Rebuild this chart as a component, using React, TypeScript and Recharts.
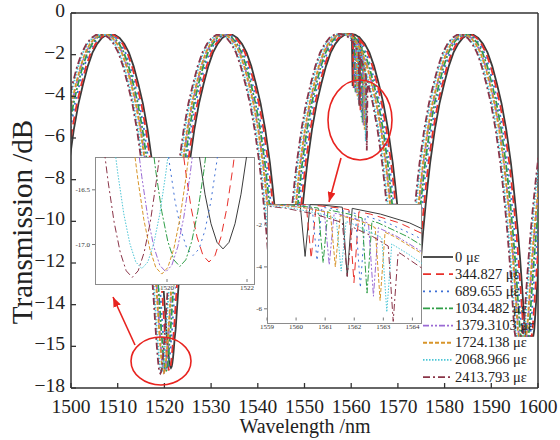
import { LineChart, Line, XAxis, YAxis, ReferenceLine, Legend } from 'recharts';

const FONT = '"Liberation Serif", "DejaVu Serif", serif';
const FRAME = '#333';

// legend / series
const STRAINS = ['0', '344.827', '689.655', '1034.482', '1379.3103', '1724.138', '2068.966', '2413.793'];
const COLORS = ['#3b3b3b', '#e8302a', '#3d6fd6', '#2f9e47', '#9a6ad4', '#d8952a', '#4cc6d6', '#8a3448'];
const DASHES = [undefined, '8 5', '2 4', '7 2 2 2', '6 2 2 2 2 2', '4 2', '1.5 1.5', '7 3 2 3'];

// interference dip near 1520 nm, per strain
const MIN_1520 = [1521.4, 1521.05, 1520.65, 1520.32, 1519.97, 1519.87, 1519.37, 1519.13];
const DEPTH_1520 = [-17.04, -17.16, -17.1, -17.2, -17.25, -17.27, -17.22, -17.3];

// other dips relative to the 1520 one, and the lowest level seen for each
const LOBE_OFFSET = [-25.8, 0, 25.2, 51.5, 76.8];
const LOBE_FLOOR = [-17.3, -17.3, -14.5, -14.5, -15.5];

// one lobe of the fringe: distance from the dip (nm) -> dB
const PROFILE_D = [0, 0.15, 0.3, 0.45, 0.6, 0.8, 1, 1.25, 1.5, 2, 2.5, 3, 3.5, 4, 5, 6, 7, 8, 9, 10, 11, 12, 13];
const PROFILE_DB = [-17.3, -17.24, -17.07, -16.8, -16.43, -15.85, -15.2, -14.35, -13.5, -11.9, -10.5, -9.3, -8.2, -7.2, -5.6, -4.35, -3.4, -2.55, -1.9, -1.48, -1.2, -1.05, -1.0];

// narrow notches on the 1560 nm fringe (right inset)
const NOTCH_A = [1560.31, 1560.52, 1560.72, 1560.93, 1561.14, 1561.35, 1561.55, 1561.76];
const NOTCH_A_DB = [-3.5, -3.6, -3.7, -3.8, -3.9, -4.0, -4.2, -4.45];
const NOTCH_B = [1561.76, 1561.99, 1562.21, 1562.44, 1562.66, 1562.89, 1563.12, 1563.34];
const NOTCH_B_DB = [-4.45, -4.75, -5.0, -5.25, -5.4, -5.6, -6.15, -6.6];

const X_TICKS = [1500, 1510, 1520, 1530, 1540, 1550, 1560, 1570, 1580, 1590, 1600];
const Y_TICKS = [0, -2, -4, -6, -8, -10, -12, -14, -16, -18];
const Y_TICK_LABELS = ['0', '\u22122', '\u22124', '\u22126', '\u22128', '\u221210', '\u221212', '\u221214', '\u221215', '\u221218'];

type Pt = { x: number; y: number };

function addNotch(pts: Pt[], c: number, depth: number): Pt[] {
  const hw = 0.17;
  const yAt = (x: number) => {
    for (let j = 1; j < pts.length; j++) {
      if (pts[j].x >= x) {
        const a = pts[j - 1], b = pts[j];
        return a.y + ((b.y - a.y) * (x - a.x)) / (b.x - a.x);
      }
    }
    return pts[pts.length - 1].y;
  };
  const yl = yAt(c - hw);
  const yr = yAt(c + hw);
  const out = pts.filter((p) => p.x < c - hw || p.x > c + hw);
  out.push({ x: c - hw, y: yl }, { x: c, y: depth }, { x: c + hw, y: yr });
  return out.sort((a, b) => a.x - b.x);
}

function buildSeries(i: number): Pt[] {
  let pts: Pt[] = [];
  LOBE_OFFSET.forEach((off, k) => {
    const m = MIN_1520[i] + off;
    const left = k === 0 ? 13 : (off - LOBE_OFFSET[k - 1]) / 2;
    const right = k === LOBE_OFFSET.length - 1 ? 13 : (LOBE_OFFSET[k + 1] - off) / 2;
    const pt = (j: number, sign: number) => {
      let y = Math.max(PROFILE_DB[j], LOBE_FLOOR[k]);
      if (k === 1 && PROFILE_D[j] <= 0.8) y += DEPTH_1520[i] - PROFILE_DB[0];
      return { x: m + sign * PROFILE_D[j], y };
    };
    for (let j = PROFILE_D.length - 1; j >= 1; j--) if (PROFILE_D[j] < left) pts.push(pt(j, -1));
    pts.push(pt(0, 1));
    for (let j = 1; j < PROFILE_D.length; j++) if (PROFILE_D[j] <= right) pts.push(pt(j, 1));
  });
  pts = addNotch(pts, NOTCH_A[i], NOTCH_A_DB[i]);
  pts = addNotch(pts, NOTCH_B[i], NOTCH_B_DB[i]);
  return pts;
}

const SERIES = STRAINS.map((_, i) => buildSeries(i));

// eslint-disable-next-line @typescript-eslint/no-explicit-any
const XTick = (props: any) => {
  const { x, y, payload } = props;
  return (
    <g>
      <line x1={x} y1={y} x2={x} y2={y - 5} stroke={FRAME} strokeWidth={1.3} />
      <text x={x} y={y + 25} textAnchor="middle" fontSize={19.5} fontFamily={FONT} fill="#222">
        {payload.value}
      </text>
    </g>
  );
};

// eslint-disable-next-line @typescript-eslint/no-explicit-any
const YTick = (props: any) => {
  const { x, y, payload, index } = props;
  return (
    <g>
      <line x1={x} y1={y} x2={x + 5} y2={y} stroke={FRAME} strokeWidth={1.3} />
      <text x={x - 6} y={y + 4} textAnchor="end" fontSize={19.5} fontFamily={FONT} fill="#222">
        {Y_TICK_LABELS[index] ?? payload.value}
      </text>
    </g>
  );
};

// small inset labels, with a thin white halo so they stay legible over the curves
// eslint-disable-next-line @typescript-eslint/no-explicit-any
const SmallXTick = (props: any) => {
  const { x, y, payload } = props;
  return (
    <g>
      <line x1={x} y1={y - 3} x2={x} y2={y - 6} stroke="#777" />
      <text x={x} y={y + 5} textAnchor="middle" fontSize={7} fontFamily={FONT} fill="#333"
        stroke="#fff" strokeWidth={2} paintOrder="stroke">
        {payload.value}
      </text>
    </g>
  );
};

const renderLegend = () => (
  <svg width={135} height={145}>
    {STRAINS.map((s, i) => {
      const y = 10 + i * 17.15;
      return (
        <g key={s}>
          <line x1={2} x2={32} y1={y} y2={y} stroke={COLORS[i]} strokeWidth={1.8} strokeDasharray={DASHES[i]} />
          <text x={34} y={y + 4.5} fontSize={14.5} fontFamily={FONT} fill="#222">
            {s} με
          </text>
        </g>
      );
    })}
  </svg>
);

const smallTick = { fontSize: 7, fontFamily: FONT, fill: '#333' };

function Lines({ width }: { width: number }) {
  return SERIES.map((data, i) => (
    <Line
      key={STRAINS[i]}
      data={data}
      dataKey="y"
      type="linear"
      stroke={COLORS[i]}
      strokeWidth={width}
      strokeDasharray={DASHES[i]}
      dot={false}
      activeDot={false}
      isAnimationActive={false}
    />
  ));
}

export default function App() {
  const insetBox = { position: 'absolute' as const, background: '#fff', boxShadow: 'inset 0 0 0 1px #8c8c8c' };
  return (
    <div style={{ position: 'fixed', left: 0, top: 0, width: 560, height: 440, background: '#fff', overflow: 'hidden' }}>
      {/* Main chart */}
      <div style={{ position: 'absolute', left: 0, top: 0 }}>
        <LineChart width={560} height={440} margin={{ top: 13, right: 22, bottom: 51, left: 70 }}>
          <XAxis
            dataKey="x"
            type="number"
            domain={[1500, 1600]}
            ticks={X_TICKS}
            interval={0}
            allowDataOverflow
            height={1}
            tickSize={0}
            tickMargin={0}
            tickLine={false}
            tick={(p: any) => <XTick {...p} />}
            axisLine={{ stroke: FRAME, strokeWidth: 1.5 }}
          />
          <YAxis
            type="number"
            domain={[-18, 0]}
            ticks={Y_TICKS}
            interval={0}
            allowDataOverflow
            width={1}
            tickSize={0}
            tickMargin={0}
            tickLine={false}
            tick={(p: any) => <YTick {...p} />}
            axisLine={{ stroke: FRAME, strokeWidth: 1.5 }}
          />
          <ReferenceLine y={0} stroke={FRAME} strokeWidth={1.5} />
          <ReferenceLine x={1600} stroke={FRAME} strokeWidth={1.5} />
          {Lines({ width: 1.8 })}
          <Legend
            layout="vertical"
            align="center"
            verticalAlign="middle"
            content={renderLegend}
            wrapperStyle={{ left: 421, top: 247, width: 135, height: 145 }}
          />
        </LineChart>
      </div>

      {/* Left inset: dip near 1520 nm */}
      <div style={{ ...insetBox, left: 95, top: 157, width: 160, height: 128 }} />
      <div style={{ position: 'absolute', left: 60, top: 150 }}>
        <LineChart width={205} height={150} margin={{ top: 7, right: 10, bottom: 14, left: 34 }}>
          <XAxis dataKey="x" type="number" domain={[1518.2, 1522.2]} ticks={[1520, 1522]} interval={0} allowDataOverflow
            height={1} axisLine={false} tickSize={0} tickMargin={0} tickLine={false} tick={(p: any) => <SmallXTick {...p} />} />
          <YAxis type="number" domain={[-17.37, -16.2]} ticks={[-16.5, -17]} interval={0} allowDataOverflow
            width={1} axisLine={false} tickSize={3} tickMargin={2} tick={smallTick} tickLine={{ stroke: '#777' }}
            tickFormatter={(v: number) => v.toFixed(1)} />
          {Lines({ width: 1 })}
        </LineChart>
      </div>

      {/* Right inset: notches near 1561 nm */}
      <div style={{ ...insetBox, left: 267, top: 204, width: 155, height: 119.5 }} />
      <div style={{ position: 'absolute', left: 250, top: 198 }}>
        <LineChart width={180} height={145} margin={{ top: 6, right: 8, bottom: 18.5, left: 16 }}>
          <XAxis dataKey="x" type="number" domain={[1559, 1564.33]} ticks={[1559, 1560, 1561, 1562, 1563, 1564]} interval={0}
            allowDataOverflow height={1} axisLine={false} tickSize={0} tickMargin={0} tickLine={false}
            tick={(p: any) => <SmallXTick {...p} />} />
          <YAxis type="number" domain={[-6.7, -1.0]} ticks={[-2, -4, -6]} interval={0} allowDataOverflow
            width={1} axisLine={false} tickSize={3} tickMargin={2} tick={smallTick} tickLine={{ stroke: '#777' }} />
          {Lines({ width: 1 })}
        </LineChart>
      </div>

      {/* Annotations and axis titles */}
      <svg width={560} height={440} style={{ position: 'absolute', left: 0, top: 0, pointerEvents: 'none' }}>
        <defs>
          <marker id="ah" markerUnits="userSpaceOnUse" markerWidth={10} markerHeight={8} refX={10} refY={4} orient="auto">
            <path d="M0,0 L10,4 L0,8 z" fill="#e8231f" />
          </marker>
        </defs>
        <ellipse cx={161} cy={361} rx={30} ry={24} fill="none" stroke="#e8231f" strokeWidth={1.6} />
        <line x1={135} y1={345} x2={113} y2={297} stroke="#e8231f" strokeWidth={1.6} markerEnd="url(#ah)" />
        <ellipse cx={360} cy={120} rx={32} ry={40} fill="none" stroke="#e8231f" strokeWidth={1.6} />
        <line x1={341} y1={158} x2={329} y2={202} stroke="#e8231f" strokeWidth={1.6} markerEnd="url(#ah)" />
        <text x={305} y={433} textAnchor="middle" fontSize={20} fontFamily={FONT} fill="#222">
          Wavelength /nm
        </text>
        <text transform="translate(32,222) rotate(-90)" textAnchor="middle" fontSize={29} fontFamily={FONT} fill="#222">
          Transmission /dB
        </text>
      </svg>
    </div>
  );
}
